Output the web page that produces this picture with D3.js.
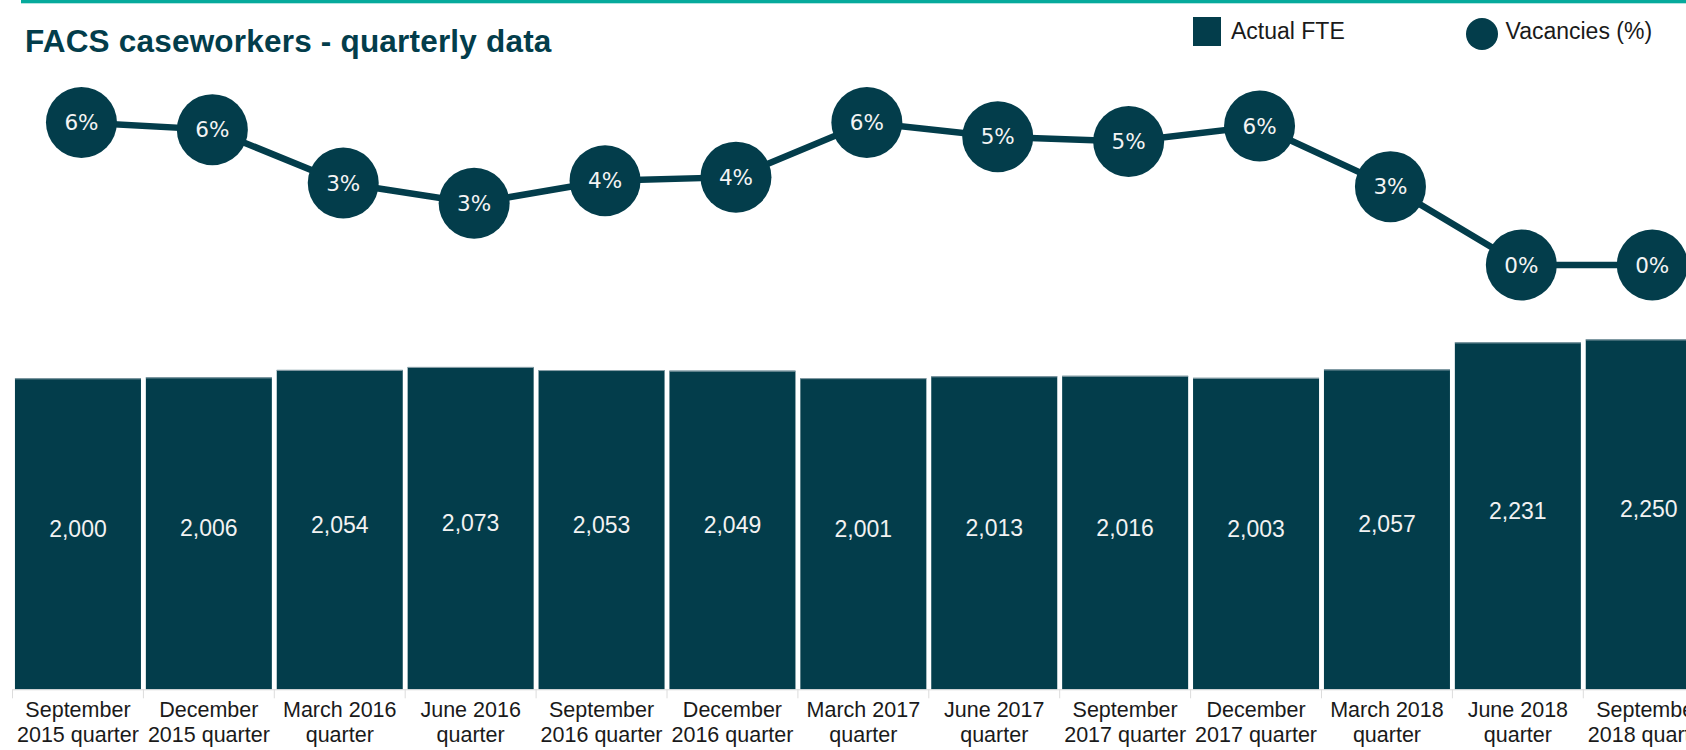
<!DOCTYPE html>
<html>
<head>
<meta charset="utf-8">
<script src="https://cdn.jsdelivr.net/npm/d3@7"></script>
<style>
    html, body { margin: 0; padding: 0; background: #fff; }
    svg { display: block; }
</style>
</head>
<body>
<svg id="chart"></svg>
<script>
// quarterly data
const quarters = [
    ["September", "2015 quarter"], ["December", "2015 quarter"], ["March 2016", "quarter"],
    ["June 2016", "quarter"], ["September", "2016 quarter"], ["December", "2016 quarter"],
    ["March 2017", "quarter"], ["June 2017", "quarter"], ["September", "2017 quarter"],
    ["December", "2017 quarter"], ["March 2018", "quarter"], ["June 2018", "quarter"],
    ["September", "2018 quarter"]
];
const actualFte = [2000, 2006, 2054, 2073, 2053, 2049, 2001, 2013, 2016, 2003, 2057, 2231, 2250];
const vacancies = [6.0, 5.7, 3.45, 2.6, 3.55, 3.7, 6.0, 5.4, 5.2, 5.85, 3.3, 0, 0];

const W = 1686, H = 750;
const dark = "#033d4b";
const teal = "#06aa9c";

const svg = d3.select("#chart").attr("width", W).attr("height", H);

const keys = quarters.map((d, i) => i);
const x = d3.scaleBand().domain(keys).range([12.5, 12.5 + 130.9 * 13])
    .paddingInner(4.9 / 130.9).paddingOuter(2.45 / 130.9);

const yBar = d3.scaleLinear().domain([0, 2000]).range([689.3, 378.3]);
const yVac = d3.scaleLinear().domain([0, 6]).range([265, 122.5]);
// the line sits a little right of the bar centres in the original
const xVac = i => x(i) + x.bandwidth() / 2 + 3.5;

// top rule
svg.append("rect").attr("x", 21).attr("y", 0).attr("width", W - 21).attr("height", 3.3).attr("fill", teal);

svg.append("text")
    .attr("x", 25).attr("y", 51.5)
    .attr("fill", dark).attr("font-family", "Liberation Sans, Arial, sans-serif")
    .attr("font-weight", "bold").attr("font-size", 31.5).attr("letter-spacing", "0.2px")
    .text("FACS caseworkers - quarterly data");

// legend
svg.append("rect").attr("x", 1193).attr("y", 17).attr("width", 28).attr("height", 29).attr("fill", dark);
svg.append("text").attr("x", 1231).attr("y", 38.5)
    .attr("font-family", "Liberation Sans, Arial, sans-serif").attr("font-size", 23).attr("fill", "#1a1a1a")
    .text("Actual FTE");
svg.append("circle").attr("cx", 1482).attr("cy", 34).attr("r", 16).attr("fill", dark);
svg.append("text").attr("x", 1505.5).attr("y", 38.5)
    .attr("font-family", "Liberation Sans, Arial, sans-serif").attr("font-size", 23).attr("fill", "#1a1a1a")
    .text("Vacancies (%)");

// bars
const gBars = svg.append("g");
gBars.selectAll("rect").data(actualFte).enter().append("rect")
    .attr("x", (d, i) => x(i)).attr("width", x.bandwidth())
    .attr("y", d => yBar(d)).attr("height", d => yBar(0) - yBar(d))
    .attr("fill", dark);
gBars.selectAll("line.top").data(actualFte).enter().append("line")
    .attr("class", "top")
    .attr("x1", (d, i) => x(i)).attr("x2", (d, i) => x(i) + x.bandwidth())
    .attr("y1", d => yBar(d) + 0.5).attr("y2", d => yBar(d) + 0.5)
    .attr("stroke", "#8ea3ac").attr("stroke-width", 1);
gBars.selectAll("text").data(actualFte).enter().append("text")
    .attr("x", (d, i) => x(i) + x.bandwidth() / 2)
    .attr("y", d => (yBar(d) + yBar(0)) / 2 + 3)
    .attr("text-anchor", "middle").attr("fill", "#f2f2f2")
    .attr("font-family", "Liberation Sans, Arial, sans-serif").attr("font-size", 23)
    .text(d => d3.format(",")(d));

// x axis
const gAxis = svg.append("g");
gAxis.append("line").attr("x1", x.range()[0]).attr("x2", W)
    .attr("y1", yBar(0) + 0.5).attr("y2", yBar(0) + 0.5)
    .attr("stroke", "#d9d9d9").attr("stroke-width", 1);
gAxis.selectAll("line.tick").data(keys).enter().append("line")
    .attr("class", "tick")
    .attr("x1", i => x(i) - x.step() * x.paddingInner() / 2).attr("x2", i => x(i) - x.step() * x.paddingInner() / 2)
    .attr("y1", yBar(0)).attr("y2", yBar(0) + 9)
    .attr("stroke", "#dcdcdc").attr("stroke-width", 1);
const lbl = gAxis.selectAll("text").data(quarters).enter().append("text")
    .attr("text-anchor", "middle").attr("fill", "#1a1a1a")
    .attr("font-family", "Liberation Sans, Arial, sans-serif").attr("font-size", 21.5)
    .attr("transform", (d, i) => `translate(${x(i) + x.bandwidth() / 2},0)`);
lbl.append("tspan").attr("x", 0).attr("y", 717.3).text(d => d[0]);
lbl.append("tspan").attr("x", 0).attr("y", 741.7).text(d => d[1]);

// vacancies line
const gVac = svg.append("g");
gVac.append("path").datum(vacancies)
    .attr("fill", "none").attr("stroke", dark).attr("stroke-width", 6.5)
    .attr("d", d3.line().x((d, i) => xVac(i)).y(d => yVac(d)));
gVac.selectAll("circle").data(vacancies).enter().append("circle")
    .attr("cx", (d, i) => xVac(i)).attr("cy", d => yVac(d))
    .attr("r", 35.5).attr("fill", dark);
gVac.selectAll("text").data(vacancies).enter().append("text")
    .attr("x", (d, i) => xVac(i)).attr("y", d => yVac(d))
    .attr("dy", "0.36em").attr("text-anchor", "middle").attr("fill", "#f4f4f4")
    .attr("font-family", "DejaVu Sans, sans-serif").attr("font-size", 21.5)
    .text(d => Math.round(d) + "%");
</script>
</body>
</html>
